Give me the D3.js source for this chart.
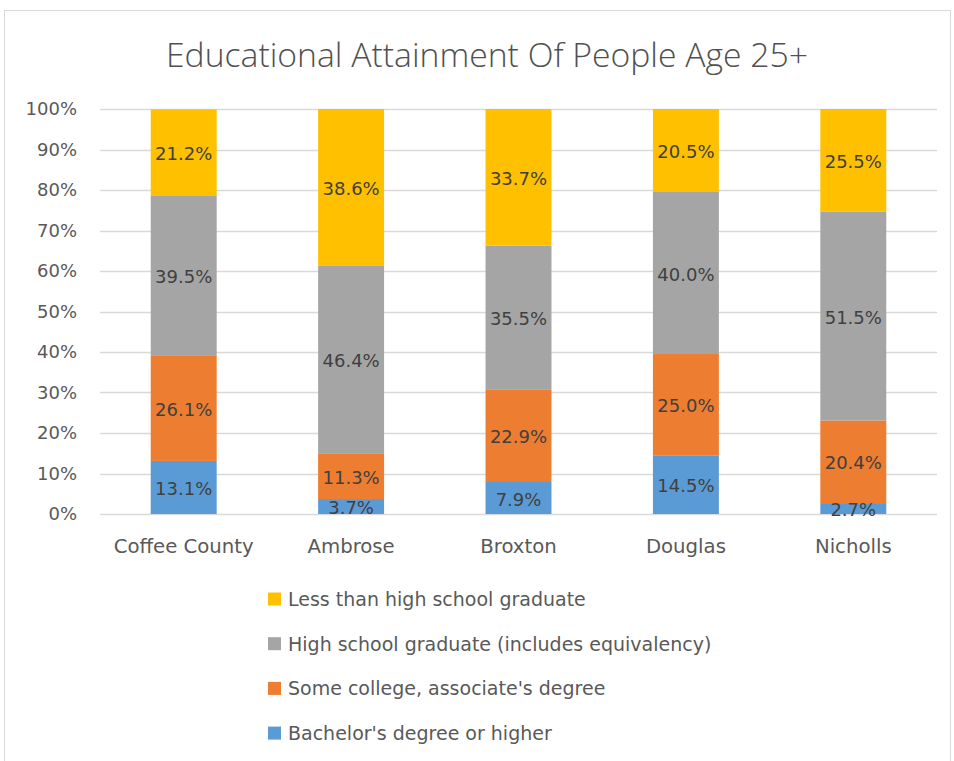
<!DOCTYPE html>
<html><head><meta charset="utf-8">
<script src="https://cdn.jsdelivr.net/npm/d3@7"></script>
<style>body{margin:0;background:#fff}text{font-family:"DejaVu Sans",sans-serif;fill:#595959}</style>
</head><body><svg id="c" width="954" height="761"></svg>
<script>
const categories = ["Coffee County","Ambrose","Broxton","Douglas","Nicholls"];
const seriesNames = ["Bachelor's degree or higher","Some college, associate's degree","High school graduate (includes equivalency)","Less than high school graduate"];
const bachelors = [13.1,3.7,7.9,14.5,2.7];
const someCollege = [26.1,11.3,22.9,25.0,20.4];
const hsGrad = [39.5,46.4,35.5,40.0,51.5];
const lessThanHS = [21.2,38.6,33.7,20.5,25.5];
const yTicks = [0,10,20,30,40,50,60,70,80,90,100];
const colors = ["#5B9BD5","#ED7D31","#A5A5A5","#FFC000"];
const title = "Educational Attainment Of People Age 25+";

const FONT = "'DejaVu Sans',sans-serif";
const svg = d3.select("#c");
svg.append("rect").attr("x",4.5).attr("y",10.5).attr("width",946).attr("height",760)
  .attr("fill","#fff").attr("stroke","#D9D9D9");

svg.append("text").attr("x",166).attr("y",67)
  .style("font-family","'Open Sans',sans-serif").style("font-size","33px").style("font-weight","300")
  .style("fill","#505050")
  .attr("textLength",642).attr("lengthAdjust","spacingAndGlyphs").text(title);

const x = d3.scaleBand().domain(categories).range([100,937]).paddingInner(0.606).paddingOuter(0.303);
const y = d3.scaleLinear().domain([0,100]).range([514,109]);

svg.append("g").selectAll("line").data(yTicks).join("line")
  .attr("x1",100).attr("x2",937).attr("y1",d=>Math.round(y(d))+0.5).attr("y2",d=>Math.round(y(d))+0.5)
  .attr("stroke","#D9D9D9").attr("stroke-width",1.5);

const yAxis = svg.append("g").attr("transform","translate(100,0)")
  .call(d3.axisLeft(y).tickValues(yTicks).tickFormat(d=>d+"%").tickSize(0).tickPadding(23));
yAxis.select(".domain").remove();
yAxis.selectAll("text").style("font-size","18px").attr("fill","#595959").style("font-family",FONT);

const xAxis = svg.append("g").attr("transform","translate(0,514)")
  .call(d3.axisBottom(x).tickSize(0).tickPadding(25));
xAxis.select(".domain").remove();
xAxis.selectAll("text").style("font-size","19.7px").attr("fill","#595959").style("font-family",FONT);

const rows = categories.map((c,i)=>({cat:c,s0:bachelors[i],s1:someCollege[i],s2:hsGrad[i],s3:lessThanHS[i]}));
const layers = d3.stack().keys(["s0","s1","s2","s3"])(rows);
layers.forEach((layer,li)=>{
  const lg = svg.append("g");
  lg.selectAll("rect").data(layer).join("rect")
    .attr("x",d=>x(d.data.cat)).attr("width",x.bandwidth())
    .attr("y",d=>y(Math.min(d[1],100))).attr("height",d=>y(d[0])-y(Math.min(d[1],100)))
    .attr("fill",colors[li]);
  lg.selectAll("text").data(layer).join("text")
    .attr("x",d=>x(d.data.cat)+x.bandwidth()/2)
    .attr("y",d=>(y(d[0])+y(Math.min(d[1],100)))/2).attr("dy","0.42em")
    .attr("text-anchor","middle").style("font-size","18px").style("fill","#404040")
    .text(d=>(d[1]-d[0]).toFixed(1)+"%");
});

const legendOrder = [3,2,1,0];
const leg = svg.append("g");
legendOrder.forEach((si,k)=>{
  const cy = 599 + k*44.7;
  leg.append("rect").attr("x",268).attr("y",cy-6.5).attr("width",13).attr("height",13).attr("fill",colors[si]);
  leg.append("text").attr("x",288).attr("y",cy).attr("dy","0.36em").style("font-size","19px").text(seriesNames[si]);
});
</script></body></html>
